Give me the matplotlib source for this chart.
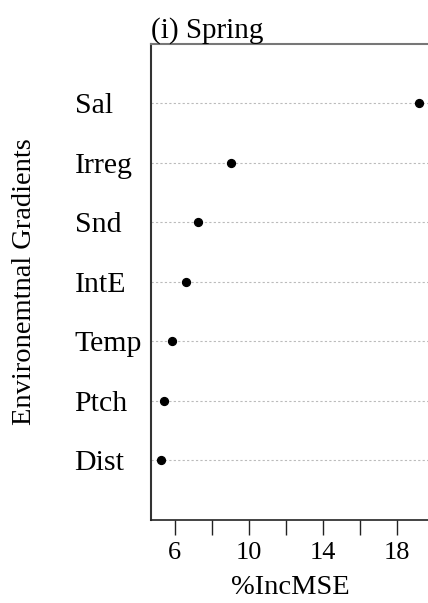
import matplotlib
matplotlib.use("Agg")
import matplotlib.pyplot as plt

variables = ["Sal", "Irreg", "Snd", "IntE", "Temp", "Ptch", "Dist"]
inc_mse = [19.2, 9.05, 7.25, 6.6, 5.85, 5.4, 5.25]
xticks = [6, 8, 10, 12, 14, 16, 18]
xticklabels = ["6", "", "10", "", "14", "", "18"]

plt.rcParams['font.family'] = ['Liberation Serif', 'DejaVu Serif']

fig = plt.figure(figsize=(4.28, 6.03), dpi=100)
ax = fig.add_axes([151/428, 1 - 520/603, 1 - 151/428 + 0.005, (520 - 43.5) / 603])

n = len(variables)
ypos = list(range(n, 0, -1))
for y in ypos:
    ax.axhline(y, color="#bbbbbb", linestyle=(0, (2, 2)), linewidth=0.8, zorder=1)
ax.scatter(inc_mse, ypos, s=32, color="black", zorder=3)

ax.set_xlim(4.71, 19.8)
ax.set_ylim(0, 8)
ax.set_xticks(xticks)
ax.set_xticklabels(xticklabels, fontsize=19)
ax.tick_params(axis="x", direction="out", length=11, width=1, pad=5, color="#222222")
ax.set_yticks(ypos)
ax.set_yticklabels(variables, fontsize=21.5, ha="left")
ax.tick_params(axis="y", length=0, pad=55)

ax.spines["right"].set_visible(False)
ax.spines["top"].set_color("#777777")
ax.spines["top"].set_linewidth(1.5)
ax.spines["left"].set_color("#333333")
ax.spines["left"].set_linewidth(1.5)
ax.spines["bottom"].set_color("#222222")
ax.spines["bottom"].set_linewidth(1.2)

ax.set_xlabel("%IncMSE", fontsize=20.5, labelpad=8)
fig.text(25/428, 1 - 282/603, "Environemtnal Gradients", rotation=90,
         fontsize=20.5, ha="center", va="center")
ax.set_title("(i) Spring", loc="left", fontsize=21, pad=4, x=0.0)

fig.savefig("out.png", dpi=100)
